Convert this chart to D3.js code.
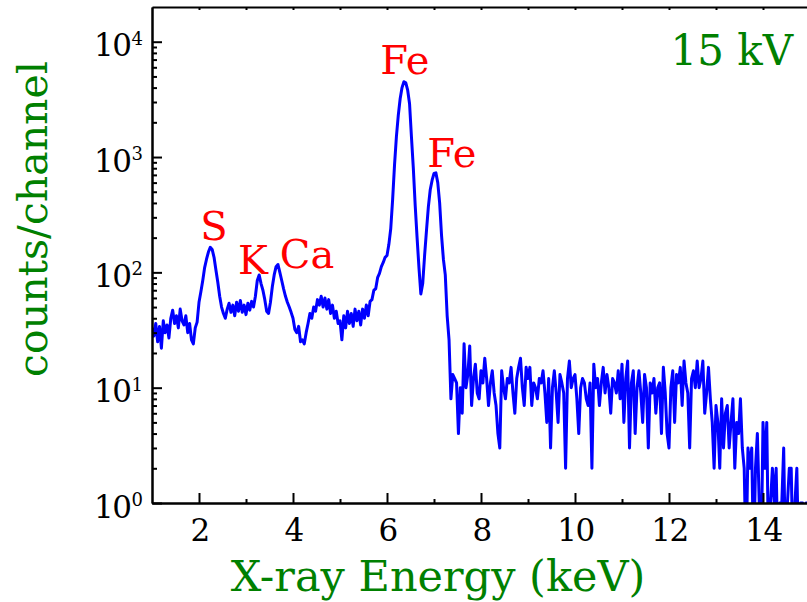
<!DOCTYPE html>
<html>
<head>
<meta charset="utf-8">
<title>X-ray spectrum</title>
<style>
  body { margin: 0; background: #fff; }
  svg text { font-family: "DejaVu Serif", serif; }
  .axis path, .axis line { stroke: #000; stroke-width: 2; }
</style>
</head>
<body>
<svg width="807" height="602"></svg>
<script src="https://d3js.org/d3.v7.min.js"></script>
<script>
// spectrum: counts per channel, channels of 0.04 keV starting at 1.00 keV
var channelStart = 1.0, channelWidth = 0.04;
var counts = [
  33,28,36,25,34,22,38,30,35,27,40,47,36,42,33,48,38,35,42,30,36,26,24,33,37,          // 1 keV
  55,68,85,110,130,150,165,158,135,105,82,62,50,44,40,48,54,45,52,42,55,46,57,45,52,   // 2
  43,54,47,56,50,62,85,95,80,70,58,46,44,55,75,95,112,117,100,85,72,62,55,50,45,       // 3
  40,32,30,34,25,26,24,30,36,44,40,50,46,58,52,62,50,60,48,58,44,52,40,46,36,          // 4
  38,26,42,33,46,36,44,34,48,38,46,35,48,40,52,42,56,58,70,72,90,98,112,122,135,       // 5
  140,175,240,430,850,1500,2300,3200,4000,4500,4400,3800,2900,1500,800,380,200,110,65,80,140,230,370,520,630, // 6
  720,730,600,400,210,130,95,42,26,8,13,12,11,4,10,6,24,10,13,23,7,12,16,9,8,          // 7
  14,11,18,12,7,11,14,9,7,4,3,14,10,8,12,11,15,9,6,12,15,18,10,7,15,                   // 8
  12,15,7,11,10,8,12,11,14,9,5,12,3,10,14,9,5,13,11,9,2,12,17,10,12,                   // 9
  13,8,4,10,12,11,8,7,11,2,16,10,12,7,11,15,9,13,10,6,12,11,9,14,8,                    // 10
  16,5,12,17,3,11,14,4,10,14,9,5,13,10,3,11,9,12,6,10,11,4,15,9,4,                     // 11
  3,10,14,5,13,11,15,7,17,11,9,3,12,14,10,17,10,12,17,6,9,15,8,5,2,                    // 12
  7,5,2,8,3,6,7,3,5,8,2,5,4,8,3,2,0,3,2,3,0,2,4,1,0,                                   // 13
  5,2,5,0,1,2,1,2,0,1,1,3,0,1,2,2,0,1,2,0,1,1,0,1,1                                    // 14
];

var xMajorTicks = [2, 4, 6, 8, 10, 12, 14];
var xMinorTicks = [3, 5, 7, 9, 11, 13];
var xTopTicks = [2, 3, 4, 5, 6, 7, 8, 9, 10, 11, 12, 13, 14];
var yDecades = [1, 10, 100, 1000, 10000];
var yExponents = ["0", "1", "2", "3", "4"];

var peakNames = ["S", "K", "Ca", "Fe", "Fe"];
var peakLabelE = [2.32, 3.15, 4.30, 6.38, 7.38];
var peakLabelCounts = [191, 97, 109, 5260, 820];

var svg = d3.select("svg"),
    plotLeft = 152, plotTop = 7, plotBottom = 503, plotRight = 810;

var x = d3.scaleLinear().domain([1, 15]).range([plotLeft, plotRight]);
var y = d3.scaleLog().domain([1, 20000]).range([plotBottom, plotTop]);

var yMinorTicks = [];
yDecades.slice(0, 4).forEach(function(d) {
  for (var m = 2; m <= 9; m++) yMinorTicks.push(d * m);
});

svg.append("defs").append("clipPath").attr("id", "plot")
  .append("rect")
  .attr("x", plotLeft).attr("y", plotTop)
  .attr("width", plotRight - plotLeft).attr("height", plotBottom - plotTop);

// spectrum line
var line = d3.line()
  .x(function(d, i) { return x(channelStart + i * channelWidth); })
  .y(function(d) { return y(Math.max(d, 0.3)); });

svg.append("path")
  .datum(counts)
  .attr("clip-path", "url(#plot)")
  .attr("fill", "none")
  .attr("stroke", "#0000ff")
  .attr("stroke-width", 3)
  .attr("stroke-linejoin", "round")
  .attr("d", line);

// axes
svg.append("g").attr("class", "axis")
  .attr("transform", "translate(0," + plotBottom + ")")
  .call(d3.axisBottom(x).tickValues(xMinorTicks).tickSize(-4).tickSizeOuter(0).tickFormat(""));

var gx = svg.append("g").attr("class", "axis")
  .attr("transform", "translate(0," + plotBottom + ")")
  .call(d3.axisBottom(x).tickValues(xMajorTicks).tickSize(-10).tickSizeOuter(0).tickPadding(16));

gx.selectAll("text")
  .attr("font-family", "DejaVu Serif, serif")
  .attr("font-size", 31)
  .attr("letter-spacing", "-1.5px")
  .attr("fill", "#000");

svg.append("g").attr("class", "axis")
  .attr("transform", "translate(0," + plotTop + ")")
  .call(d3.axisTop(x).tickValues(xTopTicks).tickSize(-3).tickSizeOuter(0).tickFormat(""));

svg.append("g").attr("class", "axis")
  .attr("transform", "translate(" + plotLeft + ",0)")
  .call(d3.axisLeft(y).tickValues(yMinorTicks).tickSize(-5).tickSizeOuter(0).tickFormat(""));

svg.append("g").attr("class", "axis")
  .attr("transform", "translate(" + plotLeft + ",0)")
  .call(d3.axisLeft(y).tickValues(yDecades).tickSize(-10).tickSizeOuter(0).tickFormat(""));

// y tick labels as 10^n
var yl = svg.append("g").selectAll("text")
  .data(yDecades)
  .join("text")
  .attr("x", plotLeft - 9)
  .attr("y", function(d) { return y(d) + 14.5; })
  .attr("text-anchor", "end")
  .attr("font-size", 31)
  .attr("fill", "#000");

yl.append("tspan").attr("letter-spacing", "-1.5px").text("10");
yl.append("tspan")
  .attr("dx", 1)
  .attr("dy", -11.5)
  .attr("font-size", 18)
  .text(function(d, i) { return yExponents[i]; });

// peak labels
svg.append("g").selectAll("text")
  .data(peakNames)
  .join("text")
  .attr("x", function(d, i) { return x(peakLabelE[i]); })
  .attr("y", function(d, i) { return y(peakLabelCounts[i]); })
  .attr("text-anchor", "middle")
  .attr("font-size", 40)
  .attr("fill", "#ff0000")
  .text(function(d) { return d; });

// titles
svg.append("text")
  .attr("x", 793).attr("y", 65)
  .attr("text-anchor", "end")
  .attr("font-size", 42)
  .attr("fill", "#008000")
  .text("15 kV");

svg.append("text")
  .attr("x", 438).attr("y", 591)
  .attr("text-anchor", "middle")
  .attr("font-size", 43)
  .attr("fill", "#008000")
  .text("X-ray Energy (keV)");

svg.append("text")
  .attr("transform", "translate(47,219) rotate(-90)")
  .attr("text-anchor", "middle")
  .attr("font-size", 41)
  .attr("fill", "#008000")
  .text("counts/channel");
</script>
</body>
</html>
